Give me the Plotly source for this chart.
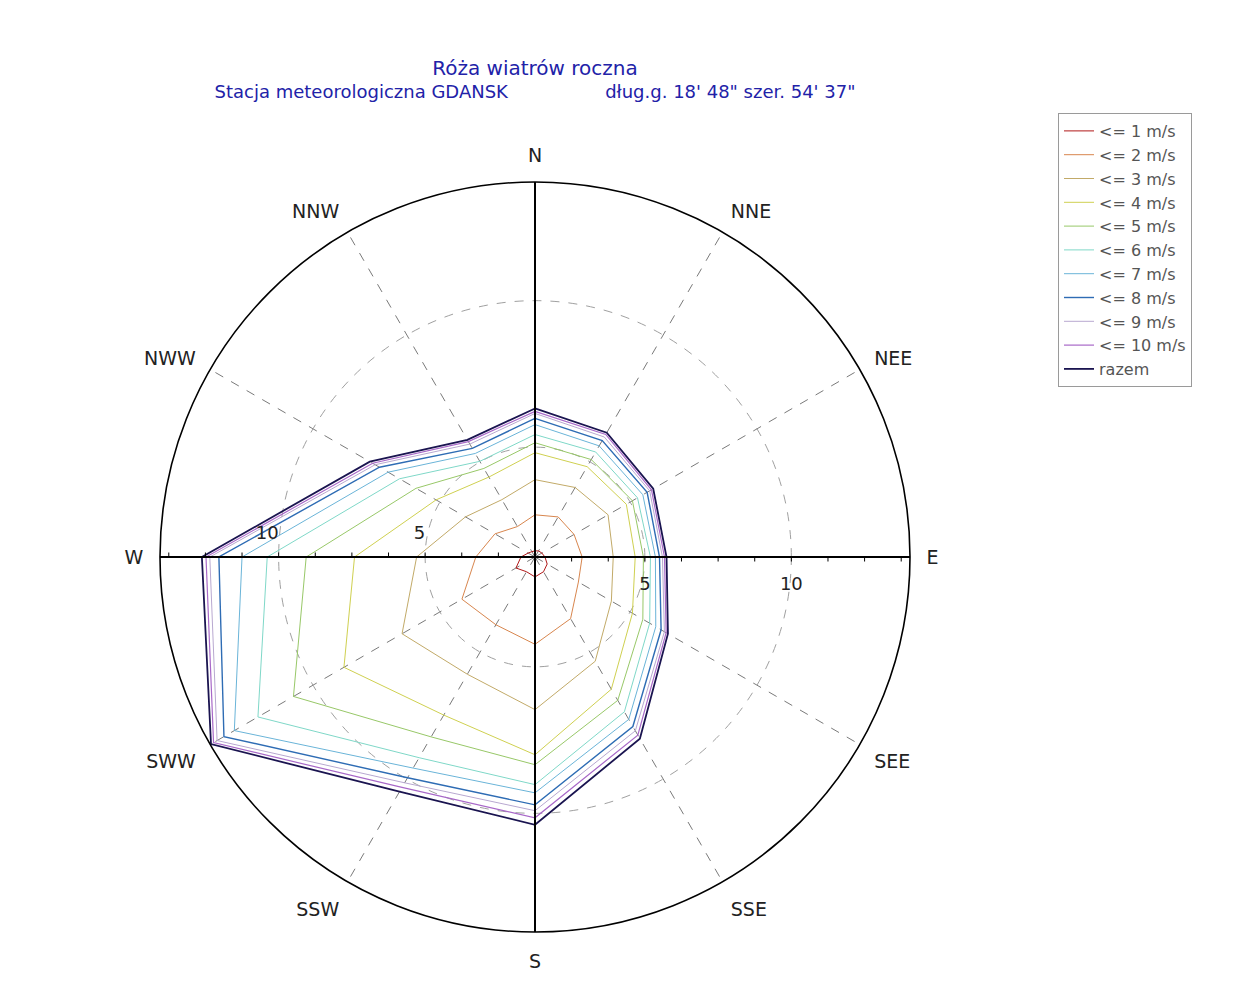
import plotly.graph_objects as go

# ---------------- data ----------------
directions = ["N", "NNE", "NEE", "E", "SEE", "SSE", "S", "SSW", "SWW", "W", "NWW", "NNW"]

series_names = ["<= 1 m/s", "<= 2 m/s", "<= 3 m/s", "<= 4 m/s", "<= 5 m/s",
                "<= 6 m/s", "<= 7 m/s", "<= 8 m/s", "<= 9 m/s", "<= 10 m/s", "razem"]

le1 = [1.46, 1.49, 1.52, 1.59, 1.73, 1.83, 1.93, 1.83, 2.00, 1.73, 1.52, 1.46]
le2 = [2.69, 2.83, 2.79, 2.86, 2.96, 3.68, 4.23, 3.92, 4.13, 3.27, 2.83, 2.45]
le3 = [3.89, 3.99, 4.13, 3.92, 4.26, 5.36, 6.46, 5.87, 6.49, 5.29, 3.99, 3.51]
le4 = [4.81, 4.81, 4.85, 4.67, 5.09, 6.46, 8.00, 7.48, 8.78, 7.41, 5.15, 4.40]
le5 = [5.15, 5.09, 5.09, 4.95, 5.50, 6.90, 8.34, 8.34, 10.77, 9.06, 5.94, 4.74]
le6 = [5.43, 5.39, 5.29, 5.19, 5.77, 7.35, 9.02, 9.16, 12.17, 10.39, 6.59, 5.02]
le7 = [5.77, 5.63, 5.50, 5.36, 6.01, 7.65, 9.30, 9.57, 13.10, 11.25, 7.04, 5.33]
le8 = [5.98, 5.84, 5.67, 5.50, 6.22, 7.93, 9.71, 9.95, 13.51, 12.04, 7.38, 5.53]
le9 = [6.15, 5.98, 5.77, 5.60, 6.35, 8.10, 9.91, 10.15, 13.78, 12.35, 7.55, 5.70]
le10 = [6.22, 6.08, 5.84, 5.67, 6.42, 8.27, 10.15, 10.33, 13.92, 12.48, 7.65, 5.80]
razem = [6.32, 6.15, 5.91, 5.74, 6.49, 8.41, 10.39, 10.50, 14.02, 12.62, 7.76, 5.87]

all_series = [le1, le2, le3, le4, le5, le6, le7, le8, le9, le10, razem]

colors = ["#b01818", "#d8864e", "#c2aa68", "#cfd050", "#98c868",
          "#7fd8c8", "#6ab4d8", "#2e6cb4", "#b8a8d0", "#a868c8", "#1a1450"]
widths = [1, 1, 1, 1, 1, 1, 1, 1.4, 1, 1.2, 1.8]

r_min, r_max = 1.25, 14.05
label_ticks = [5, 10]
minor_step = 1.25

tick_vals = [round(minor_step * k, 2) for k in range(2, 12)]
tick_text = [str(int(v)) if v in label_ticks else "" for v in tick_vals]

# ---------------- figure ----------------
fig = go.Figure()

for name, vals, col, w in zip(series_names, all_series, colors, widths):
    fig.add_trace(go.Scatterpolar(
        r=vals + [vals[0]],
        theta=directions + [directions[0]],
        mode="lines",
        name=name,
        line=dict(color=col, width=w),
        subplot="polar",
    ))

for sp in ["polar2", "polar3", "polar4", "polar5"]:
    fig.add_trace(go.Scatterpolar(r=[], theta=[], subplot=sp, showlegend=False, hoverinfo="skip"))

W, H = 1237, 996
OFF = 8  # page body margin
cx, cy, R = 535 - OFF, 557 - OFF, 375
dom_x = [(cx - R) / W, (cx + R) / W]
dom_y = [1 - (cy + R) / H, 1 - (cy - R) / H]
dom = dict(x=dom_x, y=dom_y)

FONT = "DejaVu Sans, Verdana, sans-serif"

hidden_angular = dict(showticklabels=False, ticks="", showline=False, showgrid=False)


def tick_axis(angle, labels, ticklen, tickcolor, tickangle=None):
    d = dict(
        range=[r_min, r_max],
        angle=angle, side="clockwise",
        tickmode="array", tickvals=tick_vals,
        ticktext=tick_text if labels else [""] * len(tick_vals),
        ticks="outside", ticklen=ticklen, tickcolor=tickcolor, tickwidth=1,
        showline=False, showgrid=False,
        tickfont=dict(family=FONT, size=18, color="#222"),
    )
    if tickangle is not None:
        d["tickangle"] = tickangle
    return d


fig.update_layout(
    width=W, height=H,
    template="none",
    paper_bgcolor="white",
    margin=dict(l=0, r=0, t=0, b=0),
    font=dict(family=FONT, color="#222"),
    title=dict(
        text="<span style='font-size:20px'>Róża wiatrów roczna</span><br>"
             "Stacja meteorologiczna GDANSK"
             + "\u00a0" * 17 + "dług.g. 18' 48\" szer. 54' 37\"",
        x=(535 - OFF) / W, xanchor="center",
        y=1 - 67 / H, yanchor="top",
        yref="container",
        font=dict(family=FONT, size=18, color="#2222a8"),
    ),
    showlegend=True,
    legend=dict(
        x=(1058 - OFF) / W, y=1 - (113 - OFF) / H, xanchor="left", yanchor="top",
        bgcolor="white", bordercolor="#9a9a9a", borderwidth=1,
        font=dict(family=FONT, size=16, color="#555"),
        itemwidth=30,
        tracegroupgap=0,
    ),
    polar=dict(
        domain=dom,
        bgcolor="white",
        angularaxis=dict(
            type="category",
            categoryarray=directions,
            rotation=90,
            direction="clockwise",
            showline=True, linecolor="black", linewidth=1.6,
            showgrid=True, gridcolor="#7a7a7a", griddash="dash", gridwidth=1,
            ticks="outside", ticklen=12, tickcolor="rgba(0,0,0,0)",
            tickfont=dict(family=FONT, size=19, color="#222"),
        ),
        radialaxis=dict(
            range=[r_min, r_max],
            tickmode="array", tickvals=label_ticks,
            showticklabels=False, ticks="",
            showline=False,
            showgrid=True, gridcolor="#a0a0a0", griddash="dash", gridwidth=1,
        ),
    ),
    polar2=dict(
        domain=dom,
        bgcolor="rgba(0,0,0,0)",
        angularaxis=dict(
            type="linear", thetaunit="degrees",
            rotation=90, direction="clockwise",
            tickmode="array", tickvals=[0, 90, 180, 270],
            showticklabels=False, ticks="",
            showline=False,
            showgrid=True, gridcolor="black", gridwidth=1.6,
        ),
        radialaxis=tick_axis(0, True, 11, "rgba(0,0,0,0)"),
    ),
    polar3=dict(
        domain=dom,
        bgcolor="rgba(0,0,0,0)",
        angularaxis=hidden_angular,
        radialaxis=tick_axis(180, True, 14, "rgba(0,0,0,0)", tickangle=-180),
    ),
    polar4=dict(
        domain=dom,
        bgcolor="rgba(0,0,0,0)",
        angularaxis=hidden_angular,
        radialaxis=tick_axis(0, False, 4, "black"),
    ),
    polar5=dict(
        domain=dom,
        bgcolor="rgba(0,0,0,0)",
        angularaxis=hidden_angular,
        radialaxis=tick_axis(180, False, 4, "black", tickangle=180),
    ),
)

fig.write_html("out.html")
